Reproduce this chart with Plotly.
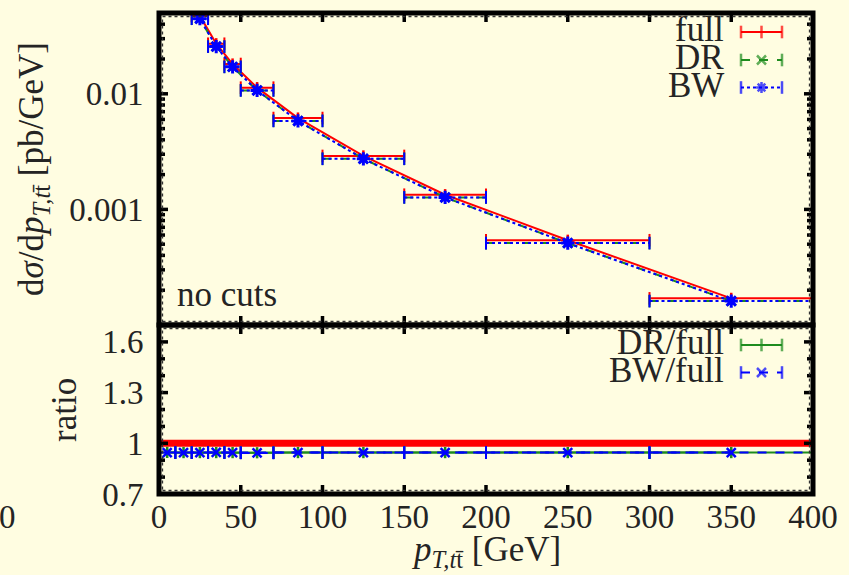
import numpy as np
import plotly.graph_objects as go

# ---- data -----------------------------------------------------------------
bin_lo = [0, 10, 20, 30, 40, 50, 70, 100, 150, 200, 300]
bin_hi = [10, 20, 30, 40, 50, 70, 100, 150, 200, 300, 400]

full = [0.062, 0.072, 0.0472, 0.0271, 0.0181, 0.0113, 0.00617, 0.00290, 0.00134, 0.000541, 0.000170]
dr = [0.0586, 0.0680, 0.0446, 0.0256, 0.0171, 0.0107, 0.00583, 0.00274, 0.00127, 0.000511, 0.000161]
bw = [0.0585, 0.0681, 0.0446, 0.0256, 0.0171, 0.0107, 0.00583, 0.00274, 0.00127, 0.000511, 0.000161]

ratio_full = [1.0] * 11
ratio_dr = [0.946, 0.945, 0.945, 0.945, 0.945, 0.944, 0.945, 0.945, 0.945, 0.945, 0.945]
ratio_bw = [0.945, 0.945, 0.945, 0.946, 0.945, 0.943, 0.945, 0.945, 0.945, 0.945, 0.945]

x_range = [0, 400]
x_ticks = [0, 50, 100, 150, 200, 250, 300, 350, 400]
y_top_range = [1e-4, 0.05]
y_top_major = [1e-4, 1e-3, 1e-2]
y_top_labels = ["", "0.001", "0.01"]
y_top_minor = [m * 10.0 ** e for e in (-4, -3, -2) for m in range(2, 10) if m * 10.0 ** e <= 0.05]
y_rat_range = [0.7, 1.7]
y_rat_major = [0.7, 1.0, 1.3, 1.6]
y_rat_labels = ["0.7", "1", "1.3", "1.6"]
y_rat_minor = [0.8, 0.9, 1.1, 1.2, 1.4, 1.5]

# ---- style ----------------------------------------------------------------
BG = "#FFFDE1"
INK = "#242424"
RED, GREEN, BLUE = "#FF0000", "#1E8C1E", "#0000FF"
FONT = "Liberation Serif"
FS = 33      # tick labels
FS_TXT = 35  # titles, key and panel text
MAJ, MIN = 9, 6  # tick lengths in px, measured from the border centre

W, H = 849, 575
L, R, T, B = 159, 36, 13, 81
PW, PH = W - L - R, H - T - B
split = (494 - 325) / PH  # fraction of the plot height for the ratio panel

centers = (np.array(bin_lo) + np.array(bin_hi)) / 2.0


def bar_xy(vals):
    xs, ys = [], []
    for lo, hi, v in zip(bin_lo, bin_hi, vals):
        xs += [lo, hi, None]
        ys += [v, v, None]
    return xs, ys


fig = go.Figure()


def add_series(vals, color, dash, symbol, msize, xa, ya, mlw=2.5):
    bx, by = bar_xy(vals)
    fig.add_trace(go.Scatter(
        x=bx, y=by, mode="lines+markers", xaxis=xa, yaxis=ya,
        line=dict(color=color, width=2, dash=dash),
        marker=dict(symbol="line-ns", size=9, color=color, line=dict(width=2, color=color)),
        showlegend=False, hoverinfo="skip"))
    fig.add_trace(go.Scatter(
        x=centers, y=vals, mode="lines+markers", xaxis=xa, yaxis=ya,
        line=dict(color=color, width=2, dash=dash),
        marker=dict(symbol=symbol, size=msize, color=color, line=dict(width=mlw, color=color)),
        showlegend=False))


# upper panel: differential cross sections
add_series(full, RED, "solid", "line-ns", 8, "x2", "y2")
add_series(dr, GREEN, "dash", "x-thin-open", 9, "x2", "y2")
add_series(bw, BLUE, "dot", "asterisk-open", 11, "x2", "y2", mlw=3)

# lower panel: ratios to the full calculation
fig.add_trace(go.Scatter(
    x=bin_lo + [bin_hi[-1]], y=ratio_full + [ratio_full[-1]], mode="lines",
    line=dict(color=RED, width=7, shape="hv"), xaxis="x", yaxis="y",
    showlegend=False, hoverinfo="skip"))
add_series(ratio_dr, GREEN, "solid", "line-ns", 8, "x", "y")
add_series(ratio_bw, BLUE, "dash", "x-thin-open", 9, "x", "y")

# key samples, on a pixel-scaled overlay axis
key_x = [741, 761.5, 782]
keys = [
    ("full", 32, RED, "solid", "line-ns"),
    ("DR", 60, GREEN, "dash", "x-thin-open"),
    ("BW", 87.5, BLUE, "dot", "asterisk-open"),
    ("DR/full", 345, GREEN, "solid", "line-ns"),
    ("BW/full", 372.5, BLUE, "dash", "x-thin-open"),
]
for label, ky, color, dash, sym in keys:
    fig.add_trace(go.Scatter(
        x=key_x, y=[ky] * 3, mode="lines+markers", xaxis="x5", yaxis="y5",
        line=dict(color=color, width=2, dash=dash),
        marker=dict(symbol=["line-ns", sym, "line-ns"], size=[9, 9, 9], color=color,
                    line=dict(width=2.5, color=color)),
        cliponaxis=False, showlegend=False, hoverinfo="skip"))

axis_common = dict(showgrid=False, zeroline=False, showline=False,
                   tickfont=dict(family=FONT, size=FS, color=INK))
# invisible outside ticks only set the gap between the border and the labels
ylab = dict(ticks="outside", ticklen=8, tickcolor="rgba(0,0,0,0)")

fig.update_layout(
    width=W, height=H, margin=dict(l=L, r=R, t=T, b=B, pad=0),
    paper_bgcolor=BG, plot_bgcolor="rgba(0,0,0,0)", showlegend=False,
    font=dict(family=FONT, size=FS, color=INK),
    xaxis=dict(domain=[0, 1], range=x_range, anchor="y", tickvals=x_ticks, ticks="",
               **axis_common),
    yaxis=dict(domain=[0, split], range=y_rat_range, anchor="x", tickvals=y_rat_major,
               ticktext=y_rat_labels, **ylab, **axis_common),
    xaxis2=dict(domain=[0, 1], range=x_range, anchor="y2", matches="x", tickvals=x_ticks,
                ticks="", showticklabels=False, **axis_common),
    yaxis2=dict(domain=[split, 1], type="log", range=list(np.log10(y_top_range)), anchor="x2",
                tickvals=y_top_major, ticktext=y_top_labels, **ylab, **axis_common),
    xaxis5=dict(domain=[0, 1], range=[L, W - R], anchor="y5", visible=False),
    yaxis5=dict(domain=[0, 1], range=[H - B, T], anchor="x5", visible=False),
)


# ---- tick marks as paper-referenced line shapes -----------------------------
def fx(v):
    return (v - x_range[0]) / (x_range[1] - x_range[0])


def fy_top(v):
    lo, hi = np.log10(y_top_range)
    return split + (np.log10(v) - lo) / (hi - lo) * (1 - split)


def fy_rat(v):
    lo, hi = y_rat_range
    return (v - lo) / (hi - lo) * split


dx, dy = 1.0 / PW, 1.0 / PH  # one pixel in paper units
TICK = dict(color="black", width=3.5)


def tick(x0, y0, x1, y1):
    fig.add_shape(type="line", xref="paper", yref="paper", x0=x0, y0=y0, x1=x1, y1=y1,
                  line=TICK, layer="above")


for v in x_ticks:
    p = fx(v)
    tick(p, 0, p, MAJ * dy)
    tick(p, split - MAJ * dy, p, split + MAJ * dy)
    tick(p, 1, p, 1 - MAJ * dy)
for vals, ln, conv in ((y_top_major, MAJ, fy_top), (y_top_minor, MIN, fy_top),
                       (y_rat_major, MAJ, fy_rat), (y_rat_minor, MIN, fy_rat)):
    for v in vals:
        p = conv(v)
        tick(0, p, ln * dx, p)
        tick(1, p, 1 - ln * dx, p)

# panel frames, with the dashed inner edge of the border
ix, iy = 3.5 * dx, 3.5 * dy
for y0, y1 in ((split, 1), (0, split)):
    fig.add_shape(type="rect", xref="paper", yref="paper", x0=ix, x1=1 - ix,
                  y0=y0 + iy, y1=y1 - iy, line=dict(color="#333333", width=1.3, dash="3px,3px"),
                  layer="above")
    fig.add_shape(type="rect", xref="paper", yref="paper", x0=0, x1=1, y0=y0, y1=y1,
                  line=dict(color="black", width=5), layer="above")


def paper_x(p):
    return (p - L) / PW


def paper_y(p):
    return (H - B - p) / PH


ann = dict(xref="paper", yref="paper", showarrow=False,
           font=dict(family=FONT, size=FS_TXT, color=INK))
for label, ky, *_ in keys:
    fig.add_annotation(text=label, x=paper_x(726), y=paper_y(ky - 2), xanchor="right",
                       yanchor="middle", **ann)

fig.add_annotation(text="no cuts", x=paper_x(175), y=paper_y(294), xanchor="left",
                   yanchor="middle", **ann)
fig.add_annotation(text="0", x=paper_x(7), y=paper_y(517), xanchor="center", yanchor="middle",
                   xref="paper", yref="paper", showarrow=False,
                   font=dict(family=FONT, size=FS, color=INK))
fig.add_annotation(text="<i>p</i><sub><i>T,t</i>t\u0304</sub> [GeV]", x=paper_x(486),
                   y=paper_y(551), xanchor="center", yanchor="middle", **ann)
fig.add_annotation(text="ratio", x=paper_x(64), y=paper_y(410), xanchor="center",
                   yanchor="middle", textangle=-90, **ann)
fig.add_annotation(text="d<i>\u03c3</i>/d<i>p</i><sub><i>T,t</i>t\u0304</sub> [pb/GeV]",
                   x=paper_x(33), y=paper_y(169), xanchor="center", yanchor="middle",
                   textangle=-90, **ann)

fig.write_html("out.html")
